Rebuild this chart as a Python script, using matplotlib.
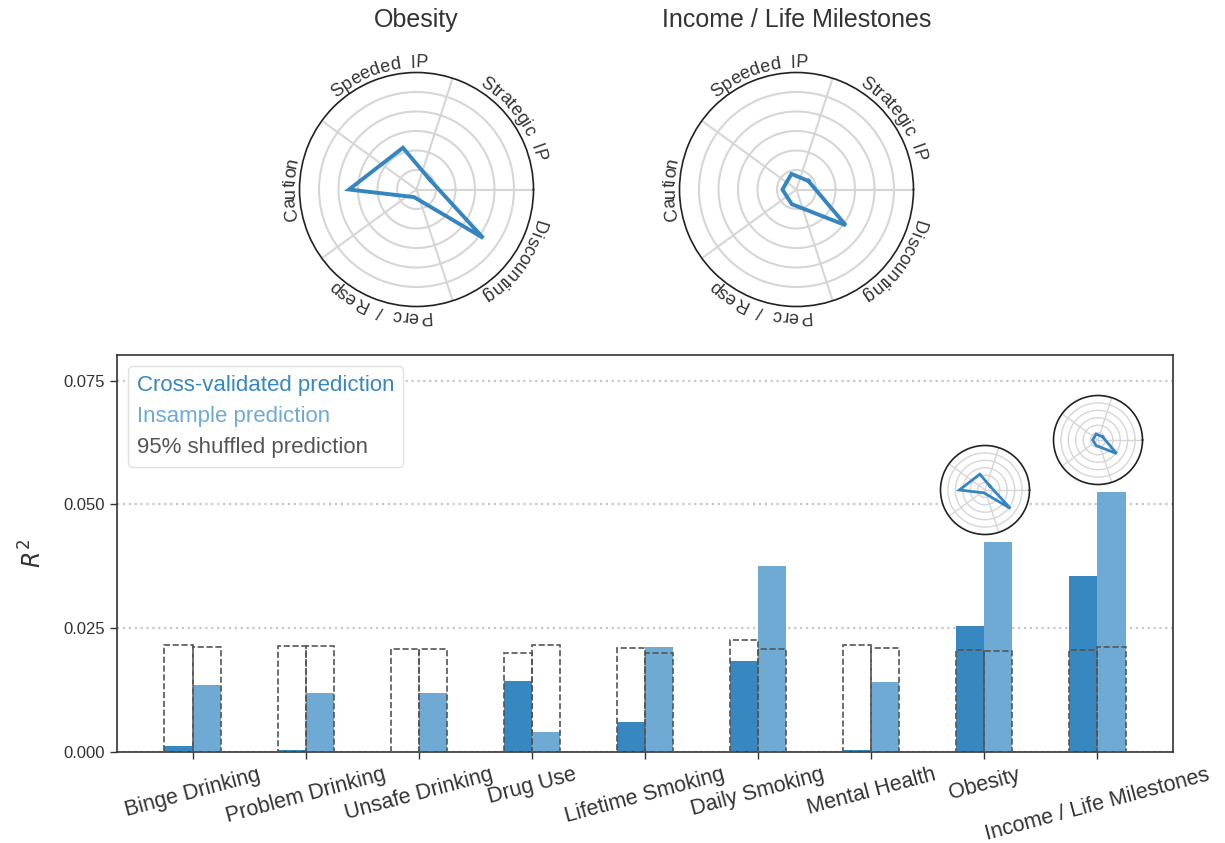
import numpy as np
import matplotlib
matplotlib.use("Agg")
import matplotlib.pyplot as plt
from matplotlib.patches import Patch
from matplotlib.font_manager import FontProperties, findfont, get_font

plt.rcParams['font.family'] = ['Liberation Sans', 'DejaVu Sans']

# ---- data -----------------------------------------------------------------
categories = ['Binge Drinking', 'Problem Drinking', 'Unsafe Drinking', 'Drug Use',
              'Lifetime Smoking', 'Daily Smoking', 'Mental Health', 'Obesity',
              'Income / Life Milestones']
cv_r2 = [0.0012, 0.0005, 0.0, 0.0144, 0.0061, 0.0183, 0.0004, 0.0255, 0.0356]
insample_r2 = [0.0135, 0.0119, 0.0119, 0.0041, 0.0212, 0.0376, 0.0141, 0.0424, 0.0525]
shuffled_cv_r2 = [0.0217, 0.0215, 0.0208, 0.0201, 0.0211, 0.0227, 0.0216, 0.0206, 0.0206]
shuffled_is_r2 = [0.0212, 0.0214, 0.0208, 0.0216, 0.0201, 0.0208, 0.0210, 0.0205, 0.0213]

radar_factors = ['Strategic  IP', 'Speeded  IP', 'Caution', 'Perc  /  Resp', 'Discounting']
obesity_weights = [0.085, 0.225, 0.346, 0.041, 0.423]
income_weights = [0.075, 0.084, 0.072, 0.079, 0.312]

yticks = [0.0, 0.025, 0.05, 0.075]

# ---- style ----------------------------------------------------------------
CV_COLOR = '#3787c0'
IS_COLOR = '#6eaad4'
SHUF_COLOR = '#555555'
TEXT = '#333333'
LINE = '#3585c0'
RMAX = 0.6

W, H = 1225, 843
fig = plt.figure(figsize=(W / 100, H / 100), dpi=100)


def px_axes(cx, cy, r):
    """Square axes centred at pixel (cx, cy) measured from the top-left."""
    return [(cx - r) / W, 1 - (cy + r) / H, 2 * r / W, 2 * r / H]


def curved_label(ax, text, theta_deg, radius_px, r_per_px, fp):
    font = get_font(findfont(fp))
    font.set_size(fp.get_size_in_points(), fig.dpi)
    adv = []
    for ch in text:
        g = font.load_char(ord(ch))
        adv.append(g.linearHoriAdvance / 65536)
    pos = -sum(adv) / 2
    for ch, a in zip(text, adv):
        s = pos + a / 2
        th = np.deg2rad(theta_deg) - s / radius_px
        if ch.strip():
            ax.text(th, radius_px * r_per_px, ch, rotation=np.rad2deg(th) - 90,
                    rotation_mode='anchor', ha='center', va='baseline',
                    fontproperties=fp, color=TEXT, clip_on=False)
        pos += a


def radar(rect, weights, lw, labels=False, radius_px=117):
    ax = fig.add_axes(rect, projection='polar')
    n = len(weights)
    angles = np.deg2rad(36 + 72 * np.arange(n))
    ax.set_ylim(0, RMAX)
    ax.set_yticks(np.linspace(0, RMAX, 7)[1:-1])
    ax.set_yticklabels([])
    ax.set_xticks(np.deg2rad([0, 72, 144, 216, 288]))
    ax.set_xticklabels([])
    ax.grid(True, color='#d6d6d6', lw=1.5 if labels else 1.0, ls='-')
    ax.spines['polar'].set_color('#222222')
    ax.spines['polar'].set_linewidth(1.2)
    ax.tick_params(length=0, pad=0)
    th = np.concatenate([angles, angles[:1]])
    rv = np.concatenate([weights, weights[:1]])
    ax.plot(th, rv, color=LINE, lw=lw, solid_joinstyle='miter')
    if labels:
        fp = FontProperties(family='Liberation Sans', size=13)
        for name, a in zip(radar_factors, np.rad2deg(angles)):
            curved_label(ax, name, a, 122, RMAX / radius_px, fp)
    return ax


# top radar panels
radar(px_axes(416.5, 189.5, 117), obesity_weights, 2.8, labels=True)
radar(px_axes(796.5, 189.5, 117), income_weights, 2.8, labels=True)
fig.text(416.5 / W, 1 - 20 / H, 'Obesity', ha='center', va='center', fontsize=18, color=TEXT)
fig.text(796.5 / W, 1 - 20 / H, 'Income / Life Milestones', ha='center', va='center',
         fontsize=18, color=TEXT)

# ---- bar chart ------------------------------------------------------------
ax = fig.add_axes([117 / W, 1 - 752 / H, (1173 - 117) / W, (752 - 355) / H])
x = np.arange(len(categories))
bw = 0.25
ax.bar(x - bw / 2, cv_r2, bw, color=CV_COLOR, zorder=2)
ax.bar(x + bw / 2, insample_r2, bw, color=IS_COLOR, zorder=2)
ax.bar(x - bw / 2, shuffled_cv_r2, bw, fill=False, edgecolor=SHUF_COLOR,
       linestyle='--', linewidth=1.2, zorder=3)
ax.bar(x + bw / 2, shuffled_is_r2, bw, fill=False, edgecolor=SHUF_COLOR,
       linestyle='--', linewidth=1.2, zorder=3)

ax.set_xlim(-0.67, len(categories) - 0.33)
ax.set_ylim(0, 0.0802)
ax.set_yticks(yticks)
ax.set_yticklabels([f'{v:.3f}' for v in yticks])
ax.set_xticks(x)
ax.set_xticklabels(categories, rotation=15, ha='center', fontsize=15.5, color=TEXT)
ax.tick_params(axis='y', labelsize=12, labelcolor=TEXT, length=5, color=TEXT, width=1)
ax.tick_params(axis='x', length=5, color=TEXT, width=1, pad=4)
ax.yaxis.grid(True, linestyle=':', color='#c8c8c8', linewidth=1.6, zorder=0)
ax.set_axisbelow(True)
for sp in ax.spines.values():
    sp.set_color(TEXT)
    sp.set_linewidth(1.2)
ax.set_ylabel('$R^2$', fontsize=17, color=TEXT, labelpad=12)

handles = [Patch(color=CV_COLOR, label='Cross-validated prediction'),
           Patch(color=IS_COLOR, label='Insample prediction'),
           Patch(color=SHUF_COLOR, label='95% shuffled prediction')]
leg = ax.legend(handles=handles, loc='upper left', fontsize=16, handlelength=0,
                handletextpad=0, frameon=True, fancybox=True, edgecolor='#dddddd',
                framealpha=0.9, labelspacing=0.45)
for h in leg.legend_handles:
    h.set_visible(False)
for t, c in zip(leg.get_texts(), [CV_COLOR, IS_COLOR, SHUF_COLOR]):
    t.set_color(c)

# small radar glyphs above the last two groups
radar(px_axes(985, 490, 44.5), obesity_weights, 2.0, radius_px=44.5)
radar(px_axes(1098, 440, 44.5), income_weights, 2.0, radius_px=44.5)

fig.savefig('out.png', dpi=100, facecolor='white')
